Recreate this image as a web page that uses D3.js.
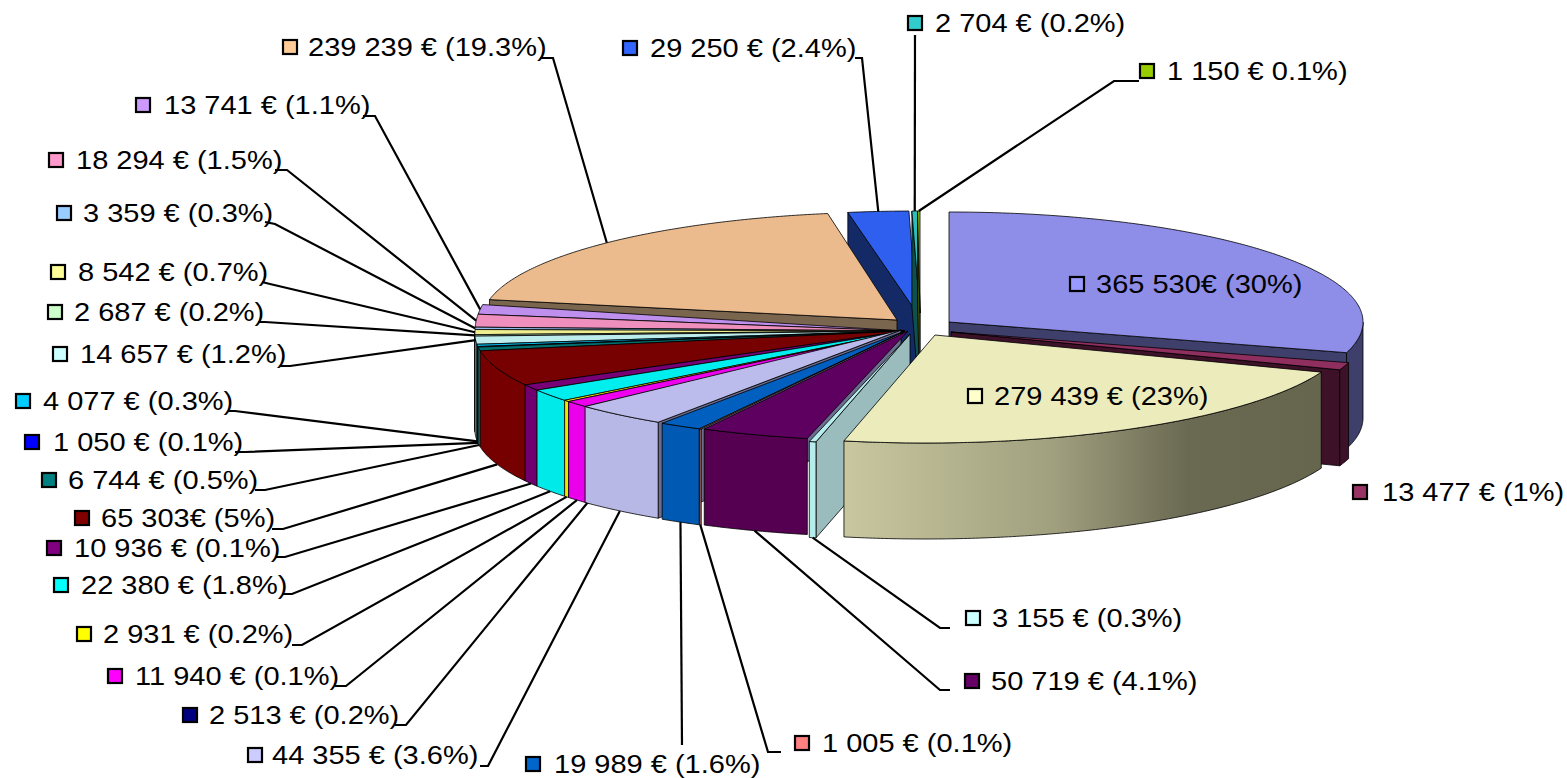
<!DOCTYPE html>
<html>
<head>
<meta charset="utf-8">
<script src="https://cdn.jsdelivr.net/npm/d3@7"></script>
<style>
  html, body { margin: 0; background: #fff; }
  svg { display: block; }
  text { font-family: "Liberation Sans", Arial, sans-serif; font-size: 26.5px; fill: #000; }
</style>
</head>
<body>
<svg width="1567" height="778"></svg>
<script>
// values clockwise from 12 o'clock
const values = [365530, 13477, 279439, 3155, 50719, 1005, 19989, 44355, 2513, 11940, 2931, 22380, 10936,
    65303, 6744, 1050, 4077, 14657, 2687, 8542, 3359, 18294, 13741, 239239, 29250, 2704, 1150];

const labels = ["365 530€ (30%)", "13 477 € (1%)", "279 439 € (23%)", "3 155 € (0.3%)", "50 719 € (4.1%)",
    "1 005 € (0.1%)", "19 989 € (1.6%)", "44 355 € (3.6%)", "2 513 € (0.2%)", "11 940 € (0.1%)",
    "2 931 € (0.2%)", "22 380 € (1.8%)", "10 936 € (0.1%)", "65 303€ (5%)", "6 744 € (0.5%)",
    "1 050 € (0.1%)", "4 077 € (0.3%)", "14 657 € (1.2%)", "2 687 € (0.2%)", "8 542 € (0.7%)",
    "3 359 € (0.3%)", "18 294 € (1.5%)", "13 741 € (1.1%)", "239 239 € (19.3%)", "29 250 € (2.4%)",
    "2 704 € (0.2%)", "1 150 € 0.1%)"];

// legend key colours
const keyColors = ["#9999ff", "#993366", "#ffffcc", "#ccffff", "#660066", "#ff8080", "#0066cc", "#ccccff",
    "#000080", "#ff00ff", "#ffff00", "#00ffff", "#800080", "#800000", "#008080", "#0000ff", "#00ccff",
    "#ccffff", "#ccffcc", "#ffff99", "#99ccff", "#ff99cc", "#cc99ff", "#ffcc99", "#3366ff", "#33cccc", "#99cc00"];

// top face is a bit darker than the key, same as the excel render
const topColors = ["#8e8ee8", "#8f2f5f", "#ecebbc", "#b7ecec", "#5e0060", "#b06a60", "#005fbf", "#bcbcec",
    "#000070", "#ee00ee", "#eeee00", "#00eeee", "#770077", "#770000", "#007070", "#0000e0", "#00bdee",
    "#bcecec", "#bcecbc", "#eeee90", "#8fbcee", "#ee8fbe", "#bf8fee", "#ebbb8e", "#2f5fee", "#2fbcbc", "#8fbc00"];

const sideColors = ["#3f3f6b", "#3d1228", "url(#creamSide)", "#b7ecec", "#550050", "#a0605a", "#005ab4", "#b8b8e6",
    "#000068", "#ea00ea", "#eaea00", "#00eaea", "#700070", "#760000", "#1f8a8a", "#0000c0", "#1f9ab0",
    "#8fb8b8", "#8fb8a0", "#c0c080", "#7090b0", "#c07098", "#9070c0", "#7a654e", "#142a66", "#0f5f5f", "#4f6600"];

// radial face colour, only where a face shows
const faceColors = {0: "#3f3f6b", 1: "#3d1228", 3: "#9abcbc", 7: "#6c6c90", 23: "#7a654e", 24: "#142a66", 25: "#0f4f4f", 26: "#3f5000"};
const faceAtEnd = [0, 1];

// layout
const depth = 96;
const body = {x: 905, y: 331, rx: 430, ry: 110, ryBack: 140, shear: 10};
const placed = {
    0: {x: 949, y: 322, rx: 414, ry: 110, shear: 0},
    1: {x: 951, y: 332, rx: 414, ry: 110, shear: 0},
    2: {x: 935, y: 335, rx: 415, ry: 108, shear: 10},
    3: {x: 910, y: 334, rx: 430, ry: 110, shear: 10},
    4: {x: 908, y: 331, rx: 430, ry: 110, shear: 10},
    7: {x: 901, y: 330, rx: 430, ry: 110, shear: 10},
    23: {x: 897, y: 320, rx: 415, ry: 108, shear: 0},
    24: {x: 917, y: 313, rx: 414, ry: 102, shear: 0},
    25: {x: 920, y: 313, rx: 414, ry: 102, shear: 0},
    26: {x: 920, y: 313, rx: 414, ry: 102, shear: 0}
};

const keyX = [1069, 1352, 967, 965, 964, 794, 525, 247, 182, 107, 76, 53, 46, 74, 41, 24, 15, 52, 47, 50, 56, 48, 135, 282, 622, 907, 1139];
const textX = [1096, 1382, 994, 992, 991, 822, 554, 272, 209, 135, 103, 81, 74, 101, 68, 53, 43, 80, 74, 78, 83, 76, 164, 308, 650, 935, 1167];
const labelY = [284, 492, 396, 618, 681, 743, 764, 755, 715, 676, 634, 585, 548, 518, 480, 442, 401, 354, 312, 272, 213, 160, 105, 47, 48, 23, 71];

// stub next to the label: [label end, elbow]
const stubs = {
    3: [[950, 628], [940, 628]], 4: [[950, 690], [940, 690]], 5: [[781, 752], [768, 752]], 6: [[682, 745], [682, 745]],
    7: [[480, 766], [488, 766]], 8: [[395, 725], [406, 725]], 9: [[335, 686], [346, 686]], 10: [[292, 645], [302, 645]],
    11: [[282, 594], [292, 594]], 12: [[275, 557], [285, 557]], 13: [[272, 529], [283, 529]], 14: [[255, 490], [265, 490]],
    15: [[235, 452], [245, 452]], 16: [[228, 411], [235, 411]], 17: [[280, 366], [290, 366]], 18: [[258, 322], [265, 322]],
    19: [[262, 282], [270, 284]], 20: [[265, 222], [275, 224]], 21: [[275, 170], [287, 170]], 22: [[363, 116], [375, 116]],
    23: [[540, 58], [553, 58]], 24: [[855, 58], [862, 58]], 25: [[915, 35], [915, 35]], 26: [[1139, 81], [1114, 81]]
};

const svg = d3.select("svg");

const grad = svg.append("defs").append("linearGradient").attr("id", "creamSide");
[[0, "#c8c79f"], [0.44, "#a0a07f"], [0.72, "#6a6952"], [1, "#66654e"]].forEach(s => {
    grad.append("stop").attr("offset", s[0]).attr("stop-color", s[1]);
});

const slices = d3.pie().sort(null).startAngle(0).endAngle(2 * Math.PI)(values);
const line = d3.line();

// project an angle on the ground plane of slice i, dz is how far down the wall
function project(i, angle, dz) {
    const p = placed[i] || body;
    const c = Math.cos(angle);
    const ry = c > 0 && p.ryBack ? p.ryBack : p.ry;
    return [
        p.x + p.rx * Math.sin(angle) + p.shear * Math.min(0, c),
        p.y - ry * c + dz
    ];
}

function arcPoints(i, a0, a1, dz) {
    const n = Math.max(2, Math.ceil((a1 - a0) / 0.01));
    return d3.range(n + 1).map(k => project(i, a0 + (a1 - a0) * k / n, dz));
}

function drawPath(points, fill) {
    svg.append("path")
        .attr("d", line(points) + "Z")
        .attr("fill", fill)
        .attr("stroke", "#000")
        .attr("stroke-width", 0.8)
        .attr("stroke-linejoin", "round");
}

function drawSlice(i) {
    const s = slices[i];
    const p = placed[i] || body;
    const apex = [p.x, p.y];

    // radial wall
    if (faceColors[i]) {
        const a = faceAtEnd.includes(i) ? s.endAngle : s.startAngle;
        const rim = project(i, a, 0);
        drawPath([apex, rim, [rim[0], rim[1] + depth], [apex[0], apex[1] + depth]], faceColors[i]);
    }

    // outer wall, only the front half shows
    const a0 = Math.max(s.startAngle, Math.PI / 2);
    const a1 = Math.min(s.endAngle, 3 * Math.PI / 2);
    if (a1 > a0) {
        drawPath(arcPoints(i, a0, a1, 0).concat(arcPoints(i, a0, a1, depth).reverse()), sideColors[i]);
    }

    // top
    drawPath([apex].concat(arcPoints(i, s.startAngle, s.endAngle, 0)), topColors[i]);
}

// back to front
[24, 25, 26, 23, 0, 1].forEach(drawSlice);
d3.range(22, 2, -1).forEach(drawSlice);
drawSlice(2);

// leader lines
Object.keys(stubs).forEach(k => {
    const i = +k;
    const s = slices[i];
    const mid = (s.startAngle + s.endAngle) / 2;
    const onWall = i >= 3 && i <= 16;
    svg.append("path")
        .attr("d", line([stubs[i][0], stubs[i][1], project(i, mid, onWall ? depth : 0)]))
        .attr("fill", "none")
        .attr("stroke", "#000")
        .attr("stroke-width", 2.2);
});

// labels
const label = svg.selectAll("g.label").data(labels).enter().append("g").attr("class", "label");

label.append("rect")
    .attr("x", (d, i) => keyX[i] + 1)
    .attr("y", (d, i) => labelY[i] - 7)
    .attr("width", 14)
    .attr("height", 14)
    .attr("fill", (d, i) => keyColors[i])
    .attr("stroke", "#000")
    .attr("stroke-width", 2.2);

label.append("text")
    .attr("transform", (d, i) => `translate(${textX[i]}, ${labelY[i] + 9}) scale(1.095, 1)`)
    .text(d => d);
</script>
</body>
</html>
